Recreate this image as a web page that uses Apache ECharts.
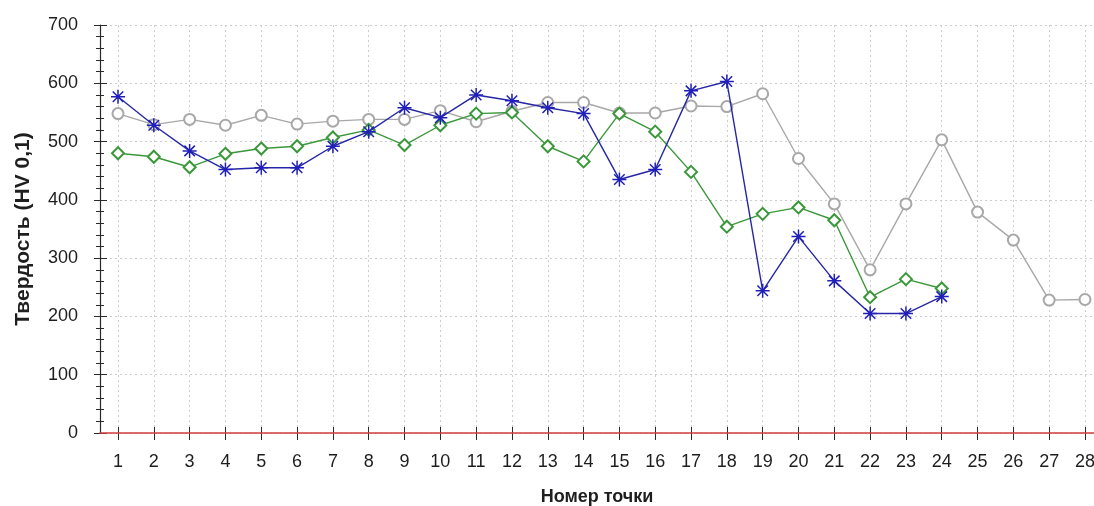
<!DOCTYPE html>
<html>
<head>
<meta charset="utf-8">
<script src="https://cdn.jsdelivr.net/npm/echarts@6/dist/echarts.min.js"></script>
<style>
  html, body { margin: 0; padding: 0; background: #fff; }
  #chart { width: 1094px; height: 506px; }
</style>
</head>
<body>
<div id="chart"></div>
<script>
// Measurement points 1..28
const points = [1,2,3,4,5,6,7,8,9,10,11,12,13,14,15,16,17,18,19,20,21,22,23,24,25,26,27,28];

// Hardness HV 0,1 along each traverse
const seriesGray  = [548,529,538,528,545,530,535,538,538,553,534,552,567,567,549,549,561,560,582,471,393,280,393,503,379,331,228,229];
const seriesGreen = [480,474,456,479,488,492,507,520,494,528,548,550,492,466,548,517,448,354,376,387,365,233,264,248];
const seriesBlue  = [577,528,484,452,455,455,492,517,558,541,580,570,558,548,435,452,587,603,244,337,261,205,205,234];

const yRange = { min: 0, max: 700, step: 100 };

const FONT = '"Liberation Sans", Arial, sans-serif';
const TEXT = '#1e1e1e';
const asterisk = 'path://M0,-10L0,10M-10,0L10,0M-7.5,-7.5L7.5,7.5M-7.5,7.5L7.5,-7.5';

function pairs(values) {
  return values.map((v, i) => [points[i], v]);
}

const chart = echarts.init(document.getElementById('chart'), null, { renderer: 'canvas' });

const gridDot = { color: '#cdcdcd', width: 1, type: [2, 3] };
const tickStyle = { color: '#2a2a2a', width: 1 };

// grid 0: frame axes (full width); grid 1: point positions 1..28
const frame = { left: 100, right: 0, top: 25, bottom: 73 };
const inner = { left: 118, right: 9, top: 25, bottom: 73 };

chart.setOption({
  backgroundColor: '#fff',
  animation: false,
  grid: [
    Object.assign({ containLabel: false, outerBoundsMode: 'none' }, frame),
    Object.assign({ containLabel: false, outerBoundsMode: 'none' }, inner)
  ],
  xAxis: [
    {
      gridIndex: 0,
      type: 'value',
      min: 0, max: 1,
      position: 'bottom',
      name: 'Номер точки',
      nameLocation: 'middle',
      nameGap: 55,
      nameTextStyle: { fontFamily: FONT, fontSize: 18, fontWeight: 'bold', color: TEXT },
      axisLine: { show: true, onZero: false, lineStyle: { color: '#d23c3c', width: 1.5 } },
      axisTick: { show: false },
      axisLabel: { show: false },
      splitLine: { show: false },
      z: 5
    },
    {
      gridIndex: 1,
      type: 'value',
      min: 1, max: 28, interval: 1,
      position: 'bottom',
      axisLine: { show: false, onZero: false },
      axisTick: { show: true, length: 7, lineStyle: tickStyle },
      axisLabel: { margin: 20, fontFamily: FONT, fontSize: 18, color: TEXT },
      splitLine: { show: true, lineStyle: gridDot }
    },
    {
      gridIndex: 1,
      type: 'value',
      min: 1, max: 28, interval: 1,
      position: 'bottom',
      offset: 0,
      axisLine: { show: false, onZero: false },
      axisTick: { show: true, inside: true, length: 6, lineStyle: tickStyle },
      axisLabel: { show: false },
      splitLine: { show: false }
    }
  ],
  yAxis: [
    {
      gridIndex: 0,
      type: 'value',
      min: yRange.min, max: yRange.max, interval: yRange.step,
      name: 'Твердость (HV 0,1)',
      nameLocation: 'middle',
      nameGap: 66,
      nameTextStyle: { fontFamily: FONT, fontSize: 21, fontWeight: 'bold', color: TEXT },
      axisLine: { show: true, onZero: false, lineStyle: { color: '#2a2a2a', width: 1.2 } },
      axisTick: { show: true, length: 6, lineStyle: tickStyle },
      minorTick: { show: true, splitNumber: 5, length: 4, lineStyle: tickStyle },
      axisLabel: { margin: 22, fontFamily: FONT, fontSize: 18, color: TEXT },
      splitLine: { show: true, lineStyle: gridDot }
    },
    {
      gridIndex: 0,
      type: 'value',
      min: yRange.min, max: yRange.max, interval: yRange.step,
      position: 'left',
      offset: 0,
      axisLine: { show: false },
      axisTick: { show: true, inside: true, length: 7, lineStyle: tickStyle },
      minorTick: { show: true, splitNumber: 5, length: 4, lineStyle: tickStyle },
      axisLabel: { show: false },
      splitLine: { show: false }
    },
    {
      gridIndex: 1,
      type: 'value',
      min: yRange.min, max: yRange.max, interval: yRange.step,
      show: false
    }
  ],
  series: [
    {
      type: 'line',
      xAxisIndex: 1, yAxisIndex: 2,
      data: pairs(seriesGray),
      symbol: 'emptyCircle',
      symbolSize: 11,
      clip: false,
      lineStyle: { color: '#a8a8a8', width: 1.4 },
      itemStyle: { color: '#a8a8a8', borderColor: '#a8a8a8', borderWidth: 1.2 },
      z: 2
    },
    {
      type: 'line',
      xAxisIndex: 1, yAxisIndex: 2,
      data: pairs(seriesGreen),
      symbol: 'emptyDiamond',
      symbolSize: 12,
      clip: false,
      lineStyle: { color: '#3a983a', width: 1.4 },
      itemStyle: { color: '#3a983a', borderColor: '#3a983a', borderWidth: 1.2 },
      z: 3
    },
    {
      type: 'line',
      xAxisIndex: 1, yAxisIndex: 2,
      data: pairs(seriesBlue),
      symbol: asterisk,
      symbolSize: 14,
      clip: false,
      lineStyle: { color: '#2626a6', width: 1.4 },
      itemStyle: { color: '#2626a6', borderColor: '#2020b8', borderWidth: 1.5 },
      z: 4
    }
  ]
});
</script>
</body>
</html>
